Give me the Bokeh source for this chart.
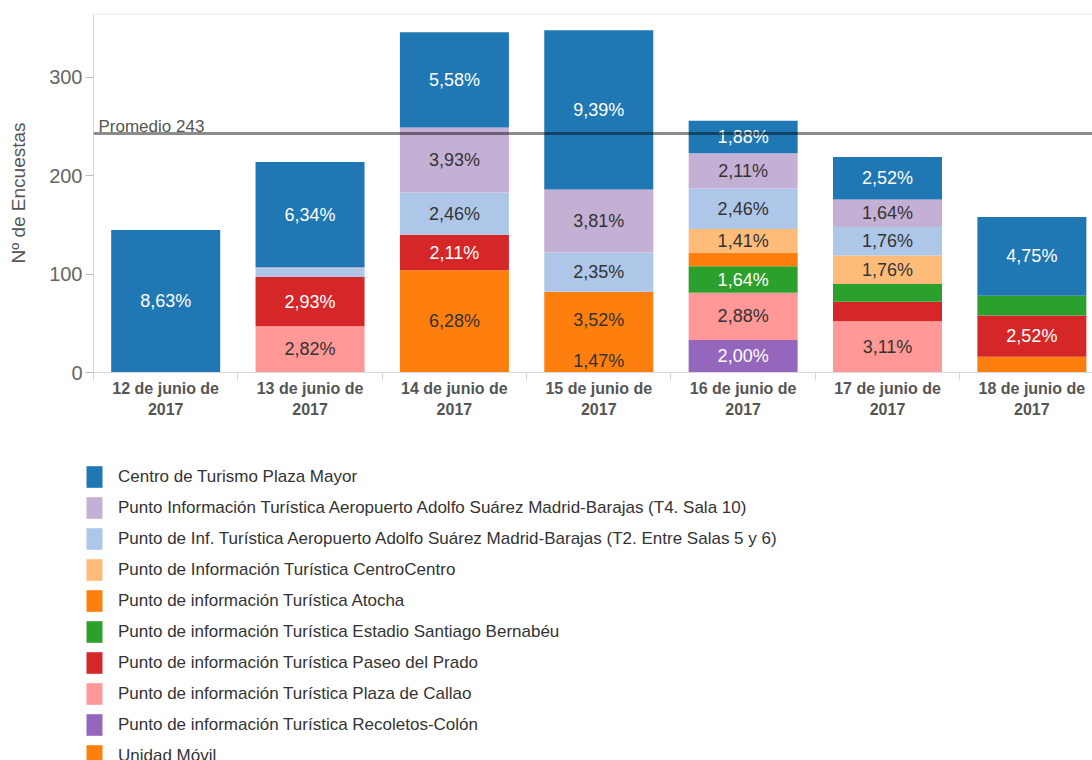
from bokeh.plotting import figure
from bokeh.models import ColumnDataSource, FixedTicker, Span, Label, Range1d, Legend, LegendItem
from bokeh.core.properties import value
from bokeh.embed import file_html
from bokeh.resources import INLINE

FONT = "Liberation Sans"

# ---------------- data ----------------
days = ["12 de junio de\n2017", "13 de junio de\n2017", "14 de junio de\n2017",
        "15 de junio de\n2017", "16 de junio de\n2017", "17 de junio de\n2017",
        "18 de junio de\n2017"]

series_names = [
    "Centro de Turismo Plaza Mayor",
    "Punto Información Turística Aeropuerto Adolfo Suárez Madrid-Barajas (T4. Sala 10)",
    "Punto de Inf. Turística Aeropuerto Adolfo Suárez Madrid-Barajas (T2. Entre Salas 5 y 6)",
    "Punto de Información Turística CentroCentro",
    "Punto de información Turística Atocha",
    "Punto de información Turística Estadio Santiago Bernabéu",
    "Punto de información Turística Paseo del Prado",
    "Punto de información Turística Plaza de Callao",
    "Punto de información Turística Recoletos-Colón",
    "Unidad Móvil",
]
series_colors = ["#1f77b4", "#c5b0d5", "#aec7e8", "#ffbb78", "#ff7f0e",
                 "#2ca02c", "#d62728", "#ff9896", "#9467bd", "#ff7f0e"]
label_colors = ["#ffffff", "#333333", "#333333", "#333333", "#333333",
                "#ffffff", "#ffffff", "#333333", "#ffffff", "#333333"]

plaza_mayor = [145, 107, 97, 162, 33, 43, 80]
aeropuerto_t4 = [0, 1, 66, 64, 36, 28, 0]
aeropuerto_t2 = [0, 9, 43, 40, 41, 29, 0]
centrocentro = [0, 0, 0, 0, 24, 29, 0]
atocha = [0, 0, 0, 58, 14, 0, 0]
bernabeu = [0, 0, 0, 0, 27, 18, 20]
paseo_prado = [0, 50, 36, 0, 0, 20, 42]
callao = [0, 47, 0, 0, 48, 52, 0]
recoletos = [0, 0, 0, 0, 33, 0, 0]
unidad_movil = [0, 0, 104, 24, 0, 0, 16]

plaza_mayor_pct = ["8,63%", "6,34%", "5,58%", "9,39%", "1,88%", "2,52%", "4,75%"]
aeropuerto_t4_pct = ["", "", "3,93%", "3,81%", "2,11%", "1,64%", ""]
aeropuerto_t2_pct = ["", "", "2,46%", "2,35%", "2,46%", "1,76%", ""]
centrocentro_pct = ["", "", "", "", "1,41%", "1,76%", ""]
atocha_pct = ["", "", "", "3,52%", "", "", ""]
bernabeu_pct = ["", "", "", "", "1,64%", "", ""]
paseo_prado_pct = ["", "2,93%", "2,11%", "", "", "", "2,52%"]
callao_pct = ["", "2,82%", "", "", "2,88%", "3,11%", ""]
recoletos_pct = ["", "", "", "", "2,00%", "", ""]
unidad_movil_pct = ["", "", "6,28%", "1,47%", "", "", ""]

promedio = 243

series_values = [plaza_mayor, aeropuerto_t4, aeropuerto_t2, centrocentro, atocha,
                 bernabeu, paseo_prado, callao, recoletos, unidad_movil]
series_labels = [plaza_mayor_pct, aeropuerto_t4_pct, aeropuerto_t2_pct, centrocentro_pct,
                 atocha_pct, bernabeu_pct, paseo_prado_pct, callao_pct, recoletos_pct,
                 unidad_movil_pct]

# ---------------- chart ----------------
xs = list(range(len(days)))
keys = ["s%d" % i for i in range(len(series_names))]
data = {"x": xs}
for k, v in zip(keys, series_values):
    data[k] = v
src = ColumnDataSource(data)

p = figure(width=1092, height=440, x_range=Range1d(-0.5, 6.42), y_range=Range1d(0, 365),
           output_backend="svg", toolbar_location=None,
           min_border_left=93, min_border_top=13, min_border_right=0, min_border_bottom=68)
p.outline_line_color = None
p.xgrid.visible = False
p.ygrid.visible = False

# stack from bottom (last legend entry) to top (first legend entry)
order = list(range(len(series_names)))[::-1]
p.vbar_stack([keys[i] for i in order], x="x", width=0.755, source=src,
             fill_color=[series_colors[i] for i in order], line_color=None)

# segment labels
lx, ly, lt, lc = [], [], [], []
bottom = [0] * len(xs)
for i in order:
    for j in xs:
        v = series_values[i][j]
        if series_labels[i][j]:
            lx.append(j)
            ly.append(bottom[j] + v / 2.0)
            lt.append(series_labels[i][j])
            lc.append(label_colors[i])
        bottom[j] += v
lsrc = ColumnDataSource(dict(x=lx, y=ly, text=lt, color=lc))
p.text(x="x", y="y", text="text", source=lsrc, text_color="color",
       text_align="center", text_baseline="middle",
       text_font=value(FONT), text_font_size="18px")

# average line
p.add_layout(Span(location=promedio, dimension="width", line_color="black",
                  line_alpha=0.45, line_width=3))
p.add_layout(Label(x=-0.5, y=promedio, x_offset=5, y_offset=7,
                   text="Promedio %d" % promedio, text_font=FONT,
                   text_font_size="17px", text_color="#555555",
                   text_baseline="alphabetic"))
# top border
p.add_layout(Span(location=364.6, dimension="width", line_color="#dddddd", line_width=1))

# y axis
p.yaxis.ticker = FixedTicker(ticks=[0, 100, 200, 300])
p.yaxis.axis_label = "Nº de Encuestas"
p.yaxis.axis_label_text_font = FONT
p.yaxis.axis_label_text_font_size = "19px"
p.yaxis.axis_label_text_font_style = "normal"
p.yaxis.axis_label_text_color = "#555555"
p.yaxis.axis_label_standoff = 17
p.yaxis.major_label_text_font = FONT
p.yaxis.major_label_text_font_size = "20px"
p.yaxis.major_label_text_color = "#666666"
p.yaxis.major_label_standoff = 3
p.yaxis.axis_line_color = "#d9d9d9"
p.yaxis.major_tick_line_color = "#bbbbbb"
p.yaxis.major_tick_out = 8
p.yaxis.major_tick_in = 0
p.yaxis.minor_tick_line_color = None

# x axis
p.xaxis.ticker = FixedTicker(ticks=xs, minor_ticks=[j - 0.5 for j in range(len(xs) + 1)])
p.xaxis.major_label_overrides = {j: days[j] for j in xs}
p.xaxis.major_label_text_font = FONT
p.xaxis.major_label_text_font_size = "16px"
p.xaxis.major_label_text_font_style = "bold"
p.xaxis.major_label_text_color = "#555555"
p.xaxis.major_label_text_line_height = 1.25
p.xaxis.major_label_standoff = -1
p.xaxis.major_tick_line_color = None
p.xaxis.major_tick_out = 0
p.xaxis.major_tick_in = 0
p.xaxis.minor_tick_out = 8
p.xaxis.minor_tick_in = 0
p.xaxis.minor_tick_line_color = "#d9d9d9"
p.xaxis.axis_line_color = "#d9d9d9"

# ---------------- legend (separate root, so its frame is not aligned to the chart) ----------------
p2 = figure(width=1092, height=320, x_axis_location=None, y_axis_location=None,
            toolbar_location=None, output_backend="svg",
            x_range=Range1d(0, 1), y_range=Range1d(0, 1),
            min_border_left=84, min_border_top=23, min_border_right=0, min_border_bottom=0)
p2.outline_line_color = None
p2.grid.visible = False
items = []
for name, col in zip(series_names, series_colors):
    # a bar placed outside the visible range, only used to draw the legend swatch
    r = p2.vbar(x=[5], top=[1], width=0.5, fill_color=col, line_color=None)
    items.append(LegendItem(label=name, renderers=[r]))
legend = Legend(items=items, location="top_left", margin=0, padding=0,
                border_line_color=None, background_fill_alpha=0,
                glyph_width=20, glyph_height=27, label_height=27, spacing=4,
                label_standoff=14, label_text_font=FONT, label_text_font_size="17px",
                label_text_color="#333333")
p2.add_layout(legend)

open("out.html", "w").write(file_html([p, p2], INLINE))
